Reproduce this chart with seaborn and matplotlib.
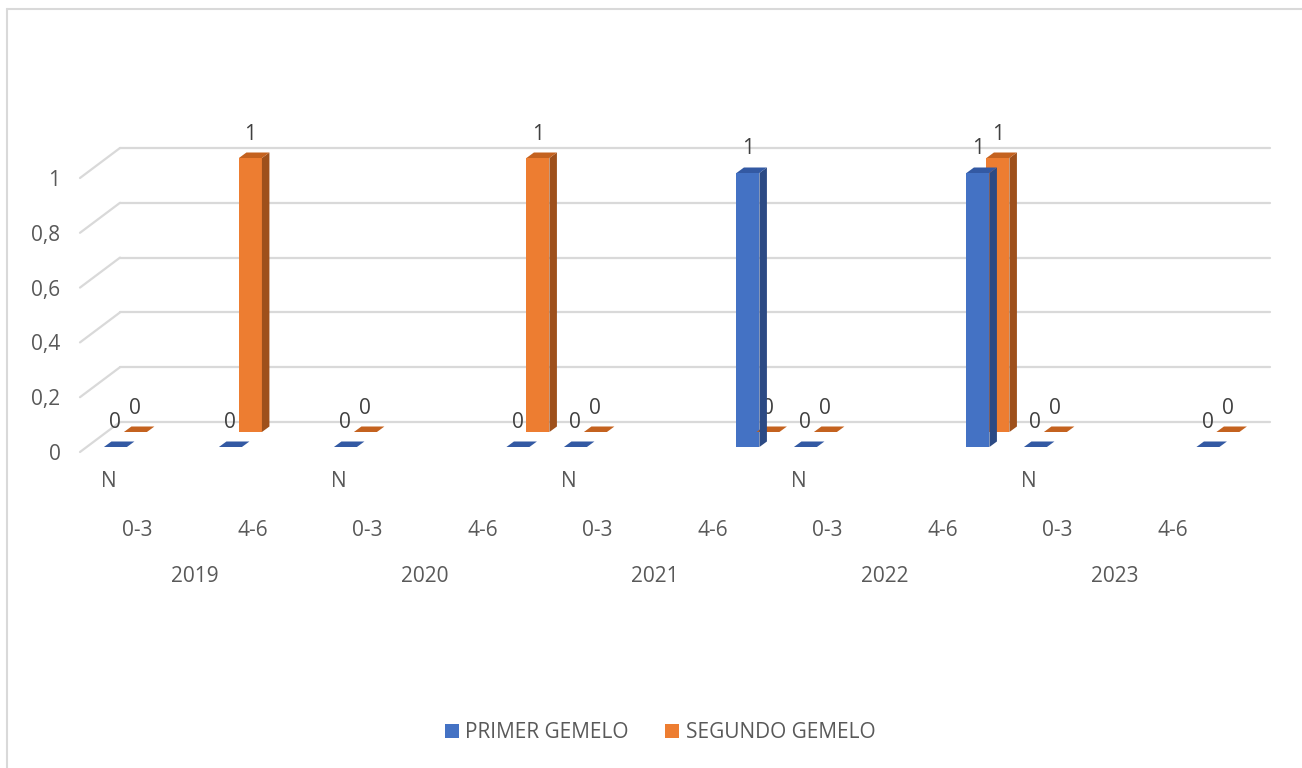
import numpy as np
import pandas as pd
import matplotlib
matplotlib.use("Agg")
import matplotlib.pyplot as plt
import matplotlib.transforms as mtransforms
from matplotlib.patches import Polygon, Patch
from matplotlib.lines import Line2D
import seaborn as sns

# ---- data -------------------------------------------------------------
years = ["2019", "2020", "2021", "2022", "2023"]
age_groups = ["0-3", "4-6"]
inner_label = "N"
series_names = ["PRIMER GEMELO", "SEGUNDO GEMELO"]

# 20 category slots: year x age group x 2 sub-slots (None = no data)
primer_gemelo = [0, None, 0, None,
                 0, None, None, 0,
                 0, None, None, 1,
                 0, None, None, 1,
                 0, None, None, 0]
segundo_gemelo = [0, None, 1, None,
                  0, None, None, 1,
                  0, None, None, 0,
                  0, None, None, 1,
                  0, None, None, 0]
y_ticks = [0, 0.2, 0.4, 0.6, 0.8, 1]
y_tick_labels = ["0", "0,2", "0,4", "0,6", "0,8", "1"]

n_slots = len(primer_gemelo)
slots = list(range(n_slots))
rows = []
for name, vals in zip(series_names, [primer_gemelo, segundo_gemelo]):
    for s, v in zip(slots, vals):
        if v is not None:
            rows.append({"slot": s, "value": v, "serie": name})
df = pd.DataFrame(rows)

# ---- style ------------------------------------------------------------
sns.set_style("white")
plt.rcParams["font.family"] = ["Open Sans", "DejaVu Sans"]
TXT = "#595959"
LBL = "#404040"
GRID = "#D9D9D9"
colors = {"PRIMER GEMELO": ("#4472C4", "#2C4A84", "#3359A3"),
          "SEGUNDO GEMELO": ("#ED7D31", "#9E501B", "#C4621F")}
depth = {"PRIMER GEMELO": 1 / 6, "SEGUNDO GEMELO": 2 / 3}
FLOOR_DX, FLOOR_DY = 40.0, 30.0      # full floor depth in pixels
BAR_DX, BAR_DY = 7.5, 5.5            # bar thickness in pixels
FS = 15

W, H, DPI = 1302, 768, 100
fig = plt.figure(figsize=(W / DPI, H / DPI), dpi=DPI)
fig.patch.set_facecolor("white")

# front plane of the floor
left_px, right_px, base_px, top_px = 80, 1230, 452, 178
ax = fig.add_axes([left_px / W, (H - base_px) / H,
                   (right_px - left_px) / W, (base_px - top_px) / H])
ax.set_facecolor("none")
for sp in ax.spines.values():
    sp.set_visible(False)


def shift(f):
    return mtransforms.Affine2D().translate(FLOOR_DX * f, FLOOR_DY * f)


def set_limits():
    ax.set_xlim(-0.5, n_slots - 0.5)
    ax.set_ylim(0, 1)


# bars: back series first, front series on top
drawn = []
for name, z in [("SEGUNDO GEMELO", 2), ("PRIMER GEMELO", 4)]:
    before = len(ax.patches)
    sns.barplot(data=df[df.serie == name], x="slot", y="value", order=slots,
                color=colors[name][0], saturation=1, width=0.4,
                errorbar=None, ax=ax, zorder=z, linewidth=0)
    drawn.append((name, z, list(ax.patches[before:])))
set_limits()

for name, z, patches in drawn:
    f = depth[name]
    front_c, side_c, top_c = colors[name]
    off = shift(f)
    for p in patches:
        p.set_transform(ax.transData + off)
        p.set_clip_on(False)
        p.set_zorder(z)
        x0, x1 = p.get_x(), p.get_x() + p.get_width()
        h = p.get_height()
        (xl, yb), (xr, yt) = (ax.transData + off).transform([(x0, 0), (x1, h)])
        side = Polygon([(xr, yb), (xr, yt), (xr + BAR_DX, yt + BAR_DY),
                        (xr + BAR_DX, yb + BAR_DY)], closed=True,
                       facecolor=side_c, edgecolor="none",
                       transform=mtransforms.IdentityTransform(),
                       clip_on=False, zorder=z - 0.5)
        top = Polygon([(xl, yt), (xr, yt), (xr + BAR_DX, yt + BAR_DY),
                       (xl + BAR_DX, yt + BAR_DY)], closed=True,
                      facecolor=top_c, edgecolor="none",
                      transform=mtransforms.IdentityTransform(),
                      clip_on=False, zorder=z + 0.5)
        fig.add_artist(side)
        fig.add_artist(top)
        # value label
        cx = (x0 + x1) / 2
        ax.annotate(f"{h:g}", xy=(cx, h), xycoords=ax.transData + off,
                    xytext=(0, 24 * 0.72), textcoords="offset points",
                    ha="center", va="center", fontsize=FS, color=LBL,
                    zorder=10, annotation_clip=False)

# back wall gridlines and side-wall diagonals
back = ax.transData + shift(1.0)
for yv in y_ticks:
    (bx0, by), (bx1, _) = back.transform([(-0.5, yv), (n_slots - 0.5, yv)])
    fx, fy = ax.transData.transform((-0.5, yv))
    fig.add_artist(Line2D([bx0, bx1], [by, by], color=GRID, lw=1.6,
                          transform=mtransforms.IdentityTransform(), zorder=0))
    fig.add_artist(Line2D([fx, bx0], [fy, by], color=GRID, lw=1.6,
                          transform=mtransforms.IdentityTransform(), zorder=0))

# y axis labels on the front plane
ax.set_yticks(y_ticks)
ax.set_yticklabels(y_tick_labels)
ax.tick_params(axis="y", length=0, pad=14, labelsize=FS, labelcolor=TXT)

# multi-level category labels
ax.set_xticks([])
ax.set_xlabel("")
ax.set_ylabel("")
xt = ax.get_xaxis_transform()
per_year = n_slots // len(years)
per_group = per_year // len(age_groups)
for i, yr in enumerate(years):
    start = i * per_year
    ax.text(start, -0.106, inner_label, transform=xt, ha="center",
            va="center", fontsize=FS, color=TXT)
    for j, ag in enumerate(age_groups):
        gc = start + j * per_group + (per_group - 1) / 2
        ax.text(gc, -0.285, ag, transform=xt, ha="center", va="center",
                fontsize=FS, color=TXT)
    ax.text(start + (per_year - 1) / 2, -0.453, yr, transform=xt,
            ha="center", va="center", fontsize=FS, color=TXT)

# legend
handles = [Patch(facecolor=colors[n][0], edgecolor="none") for n in series_names]
fig.legend(handles, series_names, loc="center", bbox_to_anchor=(0.507, 0.0456),
           ncol=2, frameon=False, fontsize=FS, labelcolor=TXT,
           handlelength=0.68, handleheight=0.68, handletextpad=0.3,
           columnspacing=1.75)

# chart-area frame (top and left edges)
fig.add_artist(Line2D([7 / W, 1], [1 - 9 / H, 1 - 9 / H], color=GRID, lw=1.5,
                      transform=fig.transFigure))
fig.add_artist(Line2D([7 / W, 7 / W], [0, 1 - 9 / H], color=GRID, lw=1.5,
                      transform=fig.transFigure))

set_limits()
fig.savefig("out.png", dpi=DPI)
